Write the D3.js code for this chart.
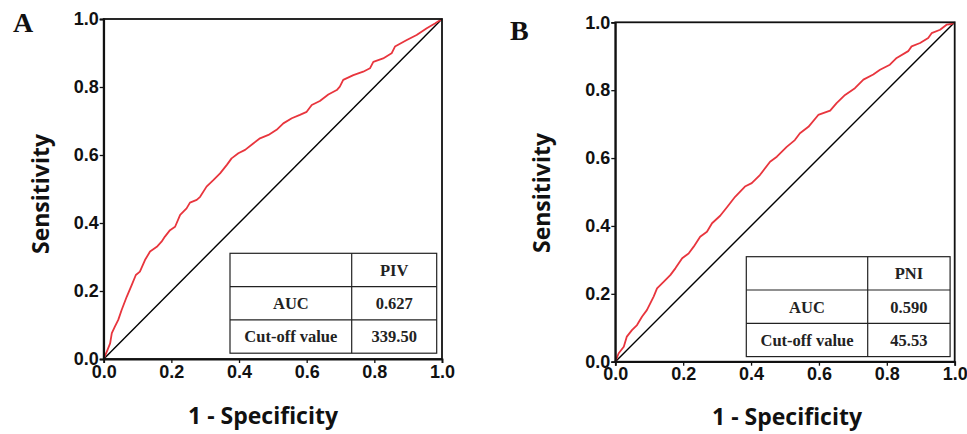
<!DOCTYPE html>
<html lang="en">
<head>
    <meta charset="utf-8">
    <title>ROC curves</title>
    <script src="https://d3js.org/d3.v7.min.js"></script>
    <style>
        body { margin: 0; background: #fff; }
    </style>
</head>
<body>
<svg width="967" height="434"></svg>
<script>
    // ROC curve A (PIV): 1 - specificity / sensitivity
    var fprA = [0, 0.011, 0.019, 0.024, 0.033, 0.043, 0.053, 0.068, 0.083, 0.095, 0.107, 0.122, 0.137, 0.157, 0.171,
        0.181, 0.196, 0.211, 0.226, 0.245, 0.255, 0.275, 0.285, 0.304, 0.324, 0.344, 0.364, 0.378, 0.398, 0.418,
        0.442, 0.462, 0.487, 0.511, 0.531, 0.556, 0.580, 0.600, 0.615, 0.639, 0.664, 0.689, 0.698, 0.708, 0.738,
        0.767, 0.787, 0.797, 0.826, 0.851, 0.861, 0.896, 0.925, 0.955, 0.979, 1];
    var tprA = [0, 0.026, 0.046, 0.076, 0.095, 0.115, 0.144, 0.183, 0.218, 0.247, 0.257, 0.291, 0.316, 0.330, 0.345,
        0.360, 0.379, 0.389, 0.424, 0.443, 0.460, 0.468, 0.477, 0.507, 0.526, 0.546, 0.571, 0.590, 0.605, 0.615,
        0.634, 0.649, 0.659, 0.674, 0.693, 0.708, 0.718, 0.727, 0.747, 0.759, 0.778, 0.791, 0.801, 0.821, 0.835,
        0.845, 0.855, 0.874, 0.884, 0.899, 0.919, 0.938, 0.953, 0.973, 0.987, 1];

    // ROC curve B (PNI)
    var fprB = [0, 0.010, 0.025, 0.034, 0.049, 0.064, 0.079, 0.093, 0.103, 0.113, 0.123, 0.143, 0.162, 0.177, 0.197,
        0.216, 0.231, 0.250, 0.270, 0.285, 0.309, 0.329, 0.353, 0.382, 0.402, 0.426, 0.456, 0.476, 0.505, 0.529,
        0.544, 0.569, 0.598, 0.633, 0.652, 0.677, 0.706, 0.731, 0.760, 0.780, 0.809, 0.829, 0.863, 0.873, 0.898,
        0.922, 0.932, 0.957, 0.976, 0.991, 1];
    var tprB = [0, 0.025, 0.044, 0.074, 0.093, 0.108, 0.133, 0.152, 0.172, 0.192, 0.216, 0.236, 0.255, 0.275, 0.305,
        0.319, 0.339, 0.368, 0.383, 0.408, 0.430, 0.455, 0.486, 0.516, 0.526, 0.550, 0.589, 0.604, 0.633, 0.653,
        0.673, 0.692, 0.727, 0.740, 0.762, 0.786, 0.806, 0.831, 0.846, 0.860, 0.875, 0.895, 0.915, 0.929, 0.939,
        0.954, 0.968, 0.978, 0.993, 0.995, 1];

    var tickValues = [0, 0.2, 0.4, 0.6, 0.8, 1.0];
    var rowLabels = ["", "AUC", "Cut-off value"];
    var markerNames = ["PIV", "PNI"];
    var aucValues = ["0.627", "0.590"];
    var cutoffValues = ["339.50", "45.53"];
    var panelLetters = ["A", "B"];

    var svg = d3.select("svg");
    var red = "#e8353d";

    // position of each panel (plot box) and its table
    var panels = [
        {left: 103.7, top: 19, w: 338.3, h: 340, fpr: fprA, tpr: tprA,
         letter: [13, 32], ylab: [49, 194], xlab: [263, 424],
         table: {x: 230, y: 253.3, c1: 121.7, c2: 85, rh: 33.3}},
        {left: 615.3, top: 22.3, w: 339.4, h: 339.4, fpr: fprB, tpr: tprB,
         letter: [510, 40], ylab: [550, 193], xlab: [787, 425],
         table: {x: 746.3, y: 256.7, c1: 121.4, c2: 82.4, rh: 33.3}}
    ];

    panels.forEach(function(p, k){
        var g = svg.append("g")
            .attr("transform", "translate(" + p.left + "," + p.top + ")");

        var x = d3.scaleLinear().domain([0, 1]).range([0, p.w]);
        var y = d3.scaleLinear().domain([0, 1]).range([p.h, 0]);

        var xAxis = d3.axisBottom(x).tickValues(tickValues).tickSize(4).tickPadding(2)
            .tickFormat(d3.format(".1f"));
        var yAxis = d3.axisLeft(y).tickValues(tickValues).tickSize(4).tickPadding(1)
            .tickFormat(d3.format(".1f"));

        // diagonal reference line
        g.append("line")
            .attr("x1", x(0)).attr("y1", y(0))
            .attr("x2", x(1)).attr("y2", y(1))
            .attr("stroke", "#000")
            .attr("stroke-width", 1.4);

        // ROC curve
        var pts = d3.zip(p.fpr, p.tpr);
        var line = d3.line()
            .x(function(d){ return x(d[0]); })
            .y(function(d){ return y(d[1]); });
        g.append("path")
            .datum(pts)
            .attr("d", line)
            .attr("fill", "none")
            .attr("stroke", red)
            .attr("stroke-width", 1.8)
            .attr("stroke-linejoin", "round");

        // frame
        g.append("rect")
            .attr("x", 0).attr("y", 0)
            .attr("width", p.w).attr("height", p.h)
            .attr("fill", "none")
            .attr("stroke", "#111")
            .attr("stroke-width", 1.8);

        var gx = g.append("g")
            .attr("transform", "translate(0," + p.h + ")")
            .call(xAxis);
        var gy = g.append("g").call(yAxis);

        [gx, gy].forEach(function(a){
            a.select(".domain").attr("stroke-width", 1.8).attr("stroke", "#111");
            a.selectAll(".tick line").attr("stroke-width", 1.3).attr("stroke", "#111");
            a.selectAll(".tick text")
                .attr("fill", "#111")
                .style("font-family", "'Liberation Sans', Arial, sans-serif")
                .style("font-weight", "bold")
                .style("font-size", "18px");
        });

        // table with AUC and cut-off
        var t = p.table;
        var tg = svg.append("g").attr("transform", "translate(" + t.x + "," + t.y + ")");
        tg.append("rect")
            .attr("width", t.c1 + t.c2).attr("height", t.rh * 3)
            .attr("fill", "#fff").attr("stroke", "#222").attr("stroke-width", 1.2);
        tg.append("line")
            .attr("x1", t.c1).attr("x2", t.c1)
            .attr("y1", 0).attr("y2", t.rh * 3)
            .attr("stroke", "#222").attr("stroke-width", 1.2);
        [1, 2].forEach(function(r){
            tg.append("line")
                .attr("x1", 0).attr("x2", t.c1 + t.c2)
                .attr("y1", r * t.rh).attr("y2", r * t.rh)
                .attr("stroke", "#222").attr("stroke-width", 1.2);
        });
        var cells = [
            [rowLabels[0], markerNames[k]],
            [rowLabels[1], aucValues[k]],
            [rowLabels[2], cutoffValues[k]]
        ];
        cells.forEach(function(row, r){
            row.forEach(function(txt, c){
                tg.append("text")
                    .attr("x", c === 0 ? t.c1 / 2 : t.c1 + t.c2 / 2)
                    .attr("y", r * t.rh + t.rh / 2)
                    .attr("dy", "0.36em")
                    .attr("text-anchor", "middle")
                    .style("font-family", "'Liberation Serif', 'Times New Roman', serif")
                    .style("font-weight", "bold")
                    .style("font-size", "16.5px")
                    .attr("fill", "#222")
                    .text(txt);
            });
        });

        // axis titles
        svg.append("text")
            .attr("transform", "translate(" + p.ylab[0] + "," + p.ylab[1] + ") rotate(-90)")
            .attr("text-anchor", "middle")
            .style("font-family", "'Open Sans', 'Noto Sans', sans-serif")
            .style("font-weight", "bold")
            .style("font-size", "23px")
            .attr("fill", "#111")
            .text("Sensitivity");
        svg.append("text")
            .attr("x", p.xlab[0]).attr("y", p.xlab[1])
            .attr("text-anchor", "middle")
            .style("font-family", "'Open Sans', 'Noto Sans', sans-serif")
            .style("font-weight", "bold")
            .style("font-size", "23px")
            .attr("fill", "#111")
            .text("1 - Specificity");

        // panel letter
        svg.append("text")
            .attr("x", p.letter[0]).attr("y", p.letter[1])
            .style("font-family", "'Liberation Serif', 'Times New Roman', serif")
            .style("font-weight", "bold")
            .style("font-size", "28px")
            .attr("fill", "#111")
            .text(panelLetters[k]);
    });
</script>
</body>
</html>
